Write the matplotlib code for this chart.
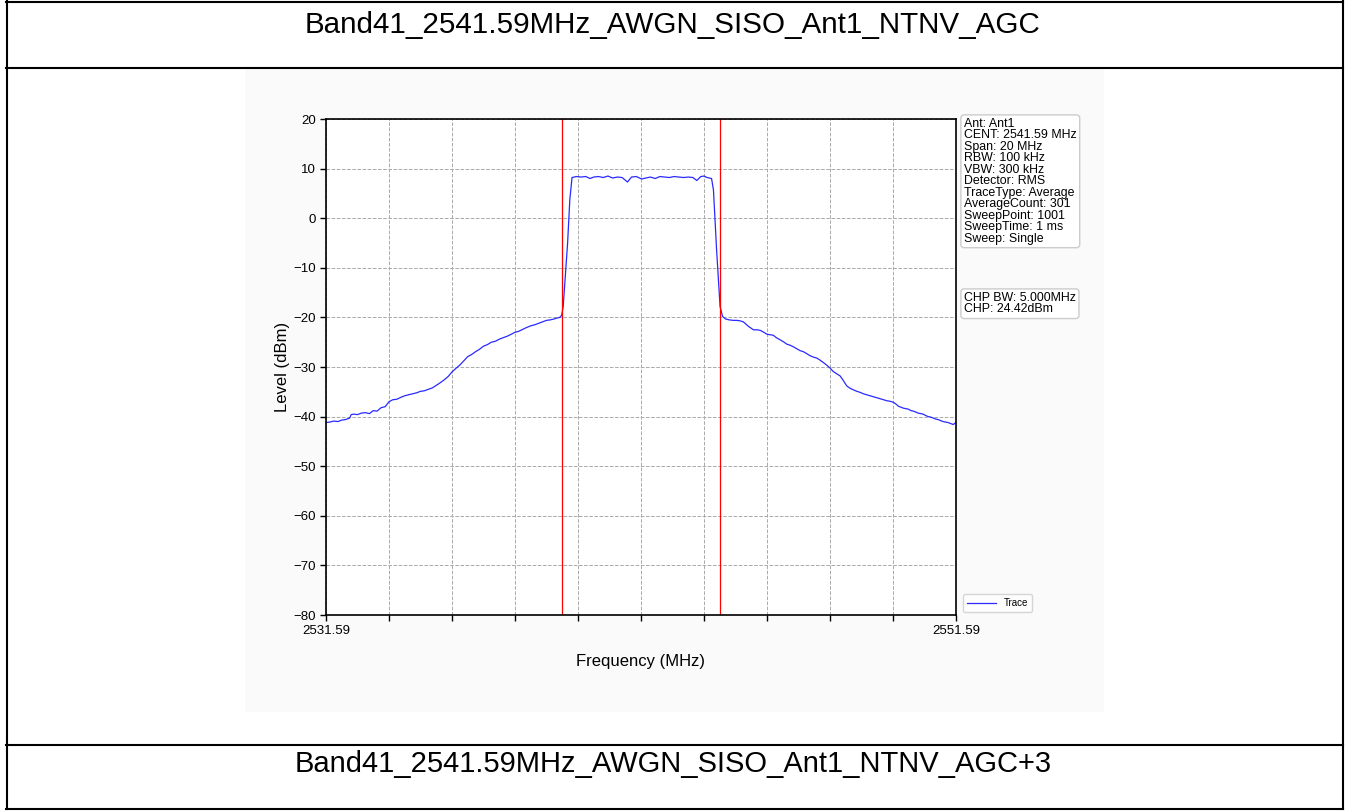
import numpy as np
import matplotlib
matplotlib.use("Agg")
import matplotlib.pyplot as plt
from matplotlib.lines import Line2D
from matplotlib.patches import Rectangle

plt.rcParams['font.family'] = ['Liberation Sans', 'DejaVu Sans']

title_top = "Band41_2541.59MHz_AWGN_SISO_Ant1_NTNV_AGC"
title_bottom = "Band41_2541.59MHz_AWGN_SISO_Ant1_NTNV_AGC+3"

f_start = 2531.59
f_center = 2541.59
span = 20.0
chp_bw = 5.0

# trace: offset from start (MHz), level (dBm)
f_offset = [0.0, 0.12, 0.25, 0.38, 0.5, 0.62, 0.75, 0.8, 0.88, 1.0, 1.12, 1.25, 1.38,
            1.5, 1.62, 1.75, 1.88, 2.0, 2.12, 2.25, 2.38, 2.5, 2.62, 2.75, 2.88,
            3.0, 3.12, 3.25, 3.38, 3.5, 3.62, 3.75, 3.88, 4.0, 4.12, 4.25, 4.38,
            4.5, 4.62, 4.75, 4.88, 5.0, 5.12, 5.25, 5.38, 5.5, 5.62, 5.75, 5.88,
            6.0, 6.12, 6.25, 6.38, 6.5, 6.62, 6.75, 6.88, 7.0, 7.12, 7.25, 7.35,
            7.42, 7.48, 7.53, 7.6, 7.67, 7.74, 7.81,
            7.95, 8.1, 8.25, 8.38, 8.5, 8.65, 8.8, 8.95, 9.1, 9.25, 9.4, 9.57,
            9.7, 9.85, 10.02, 10.15, 10.3, 10.45, 10.6, 10.75, 10.9, 11.05, 11.2,
            11.35, 11.5, 11.65, 11.77, 11.9, 12.0, 12.1, 12.24,
            12.3, 12.4, 12.51, 12.59, 12.68, 12.8, 12.93, 13.05, 13.15, 13.25,
            13.41, 13.57, 13.68, 13.78, 13.9, 14.0, 14.1, 14.2, 14.3, 14.41, 14.52,
            14.63, 14.73, 14.83, 14.94, 15.05, 15.15, 15.26, 15.36, 15.47, 15.58,
            15.68, 15.79, 15.89, 16.0, 16.1, 16.2, 16.32, 16.42, 16.53, 16.64,
            16.74, 16.85, 16.95, 17.06, 17.16, 17.27, 17.38, 17.49, 17.59, 17.7,
            17.8, 17.9, 18.01, 18.1, 18.17, 18.25, 18.33, 18.41, 18.49, 18.57,
            18.65, 18.73, 18.8, 18.88, 18.96, 19.04, 19.12, 19.2, 19.28, 19.36,
            19.43, 19.51, 19.59, 19.67, 19.75, 19.83, 19.91, 20.0]
level = [-41.2, -41.1, -40.9, -41.0, -40.7, -40.6, -40.3, -39.6, -39.5, -39.6, -39.3, -39.2, -39.4,
         -38.8, -38.9, -38.2, -38.0, -37.0, -36.6, -36.5, -36.1, -35.8, -35.6, -35.4, -35.2,
         -34.9, -34.8, -34.5, -34.2, -33.7, -33.2, -32.6, -31.9, -31.0, -30.3, -29.6, -28.7,
         -27.9, -27.5, -26.9, -26.4, -25.8, -25.5, -25.0, -24.8, -24.4, -24.1, -23.8, -23.4,
         -23.0, -22.8, -22.4, -22.0, -21.7, -21.5, -21.2, -20.9, -20.6, -20.5, -20.3, -20.1,
         -20.0, -19.6, -17.8, -11.5, -5.0, 3.7, 8.2,
         8.4, 8.3, 8.4, 8.0, 8.3, 8.4, 8.2, 8.5, 8.1, 8.3, 8.2, 7.3,
         8.3, 8.4, 7.9, 8.1, 8.3, 8.0, 8.4, 8.3, 8.2, 8.4, 8.3,
         8.2, 8.3, 8.2, 7.6, 8.4, 8.5, 8.2, 8.0,
         5.7, -6.4, -17.8, -19.8, -20.3, -20.5, -20.6, -20.6, -20.7, -20.9,
         -21.8, -22.5, -22.5, -22.6, -23.0, -23.4, -23.5, -23.6, -24.1, -24.5, -24.9,
         -25.4, -25.6, -25.9, -26.3, -26.7, -26.9, -27.3, -27.7, -28.0, -28.2,
         -28.6, -29.1, -29.6, -30.2, -30.9, -31.3, -31.8, -32.7, -33.8, -34.3,
         -34.6, -34.9, -35.1, -35.4, -35.6, -35.8, -36.0, -36.2, -36.4, -36.6,
         -36.8, -36.9, -37.1, -37.5, -37.9, -38.1, -38.3, -38.4, -38.5, -38.8,
         -38.9, -39.1, -39.3, -39.4, -39.5, -39.8, -40.0, -40.1, -40.3, -40.5,
         -40.6, -40.8, -41.0, -41.1, -41.2, -41.4, -41.6, -41.2]

info_lines = ["Ant: Ant1", "CENT: 2541.59 MHz", "Span: 20 MHz", "RBW: 100 kHz",
              "VBW: 300 kHz", "Detector: RMS", "TraceType: Average",
              "AverageCount: 301", "SweepPoint: 1001", "SweepTime: 1 ms",
              "Sweep: Single"]
chp_lines = ["CHP BW: 5.000MHz", "CHP: 24.42dBm"]

y_ticks = np.arange(-80, 21, 10)

W, H = 1346, 811
fig = plt.figure(figsize=(W / 100, H / 100), dpi=100)

def px(x, y):
    return x / W, 1 - y / H

# table frame around the picture
frame_kw = dict(color='black', linewidth=1.5, transform=fig.transFigure)
for (x0, y0), (x1, y1) in [((6.5, 1), (6.5, 809)), ((1342.5, 1), (1342.5, 809)),
                           ((6, 1.5), (1343, 1.5)), ((6, 67.5), (1343, 67.5)),
                           ((6, 744.5), (1343, 744.5)), ((6, 808.5), (1343, 808.5))]:
    a, b = px(x0, y0)
    c, d = px(x1, y1)
    fig.add_artist(Line2D([a, c], [b, d], **frame_kw))

pl, pb = px(245, 712)
fig.add_artist(Rectangle((pl, pb), (1104 - 245) / W, (712 - 68) / H,
                         transform=fig.transFigure, facecolor='#fafafa',
                         edgecolor='none', zorder=-5))

fig.text(*px(673, 33), title_top, ha='center', va='baseline', fontsize=21.3)
fig.text(*px(673, 772), title_bottom, ha='center', va='baseline', fontsize=21)

ax = fig.add_axes([326 / W, 1 - 615 / H, 630 / W, 496 / H])
ax.set_facecolor('white')

freq = f_start + np.array(f_offset)
ax.plot(freq, level, color='#2a2aff', linewidth=0.9, label='Trace')
ax.axvline(f_center - chp_bw / 2, color='red', linewidth=0.9)
ax.axvline(f_center + chp_bw / 2, color='red', linewidth=0.9)

ax.set_xlim(f_start, f_start + span)
ax.set_ylim(-80, 20)
x_ticks = f_start + np.arange(0, span + 0.1, 2)
ax.set_xticks(x_ticks)
ax.set_xticklabels([f"{x_ticks[0]:.2f}"] + [""] * (len(x_ticks) - 2) + [f"{x_ticks[-1]:.2f}"])
ax.set_yticks(y_ticks)
ax.tick_params(labelsize=9.5, length=4, width=1)
ax.grid(True, linestyle='--', color='#aaaaaa', linewidth=0.7)
for s in ax.spines.values():
    s.set_linewidth(1.2)

ax.set_xlabel("Frequency (MHz)", fontsize=12, labelpad=12)
ax.set_ylabel("Level (dBm)", fontsize=12, labelpad=2)

ax.legend(loc='lower left', bbox_to_anchor=(1.006, 0.0), fontsize=7,
          handlelength=3, borderaxespad=0.3, frameon=True, fancybox=True,
          edgecolor='#cccccc')

box_kw = dict(boxstyle='round,pad=0.25', facecolor='white', edgecolor='#cccccc')
fig.text(*px(964, 118), "\n".join(info_lines), ha='left', va='top',
         fontsize=8.9, linespacing=0.94, bbox=box_kw)
fig.text(*px(964, 292), "\n".join(chp_lines), ha='left', va='top',
         fontsize=8.9, linespacing=0.94, bbox=box_kw)

fig.savefig("out.png", dpi=100)
